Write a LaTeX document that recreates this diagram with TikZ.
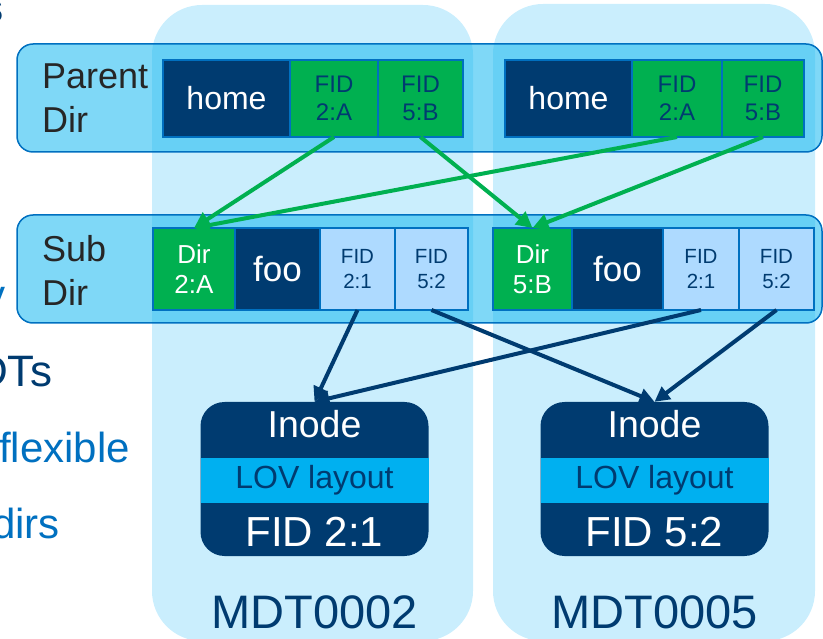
\documentclass[tikz,border=0pt]{standalone}
\usepackage{fontspec}
\setmainfont{Liberation Sans}
\usetikzlibrary{positioning,arrows.meta}

\definecolor{mdtnavy}{RGB}{0,59,112}
\definecolor{mdtgreen}{RGB}{0,176,80}
\definecolor{mdtblue}{RGB}{0,112,192}
\definecolor{fidlight}{RGB}{174,218,255}
\definecolor{lovcyan}{RGB}{0,176,240}
\definecolor{colbg}{RGB}{202,238,253}
\definecolor{bandfill}{RGB}{22,184,240}
\definecolor{labelgray}{RGB}{38,38,38}

\begin{document}
\begin{tikzpicture}[x=1pt,y=-1pt,
    cell/.style={draw=mdtblue, line width=1.2pt, inner sep=0pt, outer sep=0pt, align=center},
    homecell/.style={cell, fill=mdtnavy, text=white, minimum height=77pt, font=\fontsize{32}{36}\selectfont},
    fidgreen/.style={cell, fill=mdtgreen, text=mdtnavy, minimum height=77pt, font=\fontsize{24}{28}\selectfont},
    dircell/.style={cell, fill=mdtgreen, text=white, minimum height=82pt, font=\fontsize{26}{30}\selectfont},
    foocell/.style={cell, fill=mdtnavy, text=white, minimum height=82pt, font=\fontsize{35}{38}\selectfont},
    fidpale/.style={cell, fill=fidlight, text=mdtnavy, minimum height=82pt, font=\fontsize{20.5}{25}\selectfont},
    band/.style={draw=mdtblue, line width=1.5pt, fill=bandfill, fill opacity=0.55, rounded corners=16pt},
    rowlabel/.style={anchor=west, align=left, inner sep=0pt, text=labelgray, font=\fontsize{36}{44}\selectfont},
    inodebox/.style={fill=mdtnavy, rounded corners=24pt, minimum width=228pt, minimum height=154pt, inner sep=0pt},
    lovbar/.style={fill=lovcyan, text=mdtnavy, minimum width=228pt, minimum height=45pt, inner sep=0pt, font=\fontsize{32}{36}\selectfont},
    inodetext/.style={text=white, inner sep=0pt},
    mdtlabel/.style={text=mdtnavy, inner sep=0pt, font=\fontsize{47}{52}\selectfont},
    sidetext/.style={anchor=base west, inner sep=0pt, font=\fontsize{42}{46}\selectfont},
    greenarrow/.style={draw=mdtgreen, line width=4pt, -{Triangle[length=16pt,width=16pt]}},
    navyarrow/.style={draw=mdtnavy, line width=4pt, -{Triangle[length=15pt,width=15pt]}}
]
    \useasboundingbox (0,0) rectangle (823,639);
    \clip (0,0) rectangle (823,639);

    \fill[colbg, rounded corners=50pt] (152,5) rectangle (473,641);
    \fill[colbg, rounded corners=50pt] (493,4) rectangle (815,641);

    \node[sidetext, text=mdtnavy, font=\fontsize{42}{46}\bfseries] (sidea) at (-20,23) {s};
    \node[sidetext, text=mdtblue] (sideb) at (-16,310) {y};
    \node[sidetext, text=mdtnavy, font=\fontsize{44}{48}\selectfont] (sidec) at (-24,387) {DTs};
    \node[sidetext, text=mdtblue] (sided) at (-1,462) {flexible};
    \node[sidetext, text=mdtblue] (sidee) at (-8,538) {dirs};

    \draw[band] (17,44) rectangle (822,152);
    \draw[band] (17,215) rectangle (822,323);

    \node[rowlabel] (parentlbl) at (42,98) {Parent\\Dir};
    \node[rowlabel] (sublbl) at (42,270) {Sub\\Dir};

    \node[homecell, minimum width=127pt, anchor=north west] (p2home) at (163,60) {home};
    \node[fidgreen, minimum width=88pt, right=0pt of p2home] (p2fidA) {FID\\2:A};
    \node[fidgreen, minimum width=85pt, right=0pt of p2fidA] (p2fidB) {FID\\5:B};

    \node[homecell, minimum width=127pt, anchor=north west] (p5home) at (505,60) {home};
    \node[fidgreen, minimum width=90pt, right=0pt of p5home] (p5fidA) {FID\\2:A};
    \node[fidgreen, minimum width=82pt, right=0pt of p5fidA] (p5fidB) {FID\\5:B};

    \node[dircell, minimum width=82pt, anchor=north west] (s2dir) at (153,228) {Dir\\2:A};
    \node[foocell, minimum width=85pt, right=0pt of s2dir] (s2foo) {foo};
    \node[fidpale, minimum width=75pt, right=0pt of s2foo] (s2fid21) {FID\\2:1};
    \node[fidpale, minimum width=73pt, right=0pt of s2fid21] (s2fid52) {FID\\5:2};

    \node[dircell, minimum width=79pt, anchor=north west] (s5dir) at (493,228) {Dir\\5:B};
    \node[foocell, minimum width=91pt, right=0pt of s5dir] (s5foo) {foo};
    \node[fidpale, minimum width=76pt, right=0pt of s5foo] (s5fid21) {FID\\2:1};
    \node[fidpale, minimum width=75pt, right=0pt of s5fid21] (s5fid52) {FID\\5:2};

    \node[inodebox] (inode2) at (314.5,479) {};
    \node[lovbar] (lov2) at ([yshift=-1.5pt]inode2.center) {LOV layout};
    \node[inodetext, font=\fontsize{37.5}{42}\selectfont, above=20pt of lov2] (title2) {Inode};
    \node[inodetext, font=\fontsize{42}{46}\selectfont, below=14pt of lov2] (fid2) {FID 2:1};
    \node[mdtlabel, below=39pt of inode2] (mdt2) {MDT0002};

    \node[inodebox] (inode5) at (654.5,479) {};
    \node[lovbar] (lov5) at ([yshift=-1.5pt]inode5.center) {LOV layout};
    \node[inodetext, font=\fontsize{37.5}{42}\selectfont, above=20pt of lov5] (title5) {Inode};
    \node[inodetext, font=\fontsize{42}{46}\selectfont, below=14pt of lov5] (fid5) {FID 5:2};
    \node[mdtlabel, below=39pt of inode5] (mdt5) {MDT0005};

    \draw[greenarrow] (p2fidA.south) -- (s2dir.north);
    \draw[greenarrow] (p5fidA.south) -- (s2dir.north);
    \draw[greenarrow] (p2fidB.south) -- (s5dir.north);
    \draw[greenarrow] (p5fidB.south) -- (s5dir.north);

    \draw[navyarrow] (s2fid21.south) -- (inode2.north);
    \draw[navyarrow] (s5fid21.south) -- (inode2.north);
    \draw[navyarrow] (s2fid52.south) -- (inode5.north);
    \draw[navyarrow] (s5fid52.south) -- (inode5.north);
\end{tikzpicture}
\end{document}
